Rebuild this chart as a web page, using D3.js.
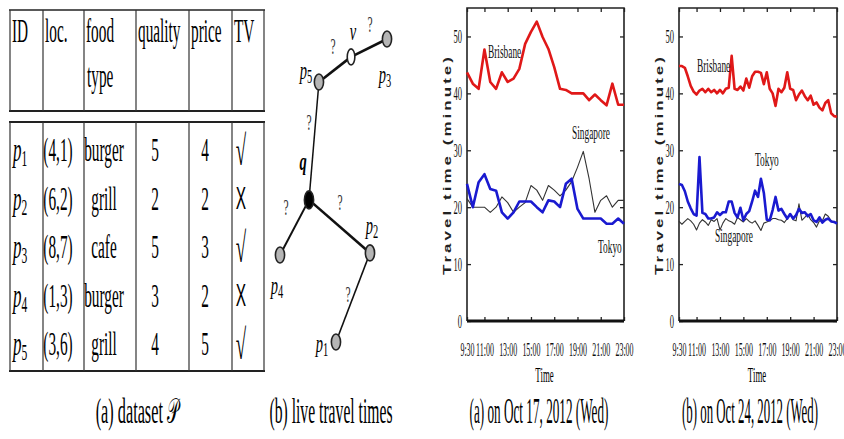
<!DOCTYPE html>
<html>
<head>
<meta charset="utf-8">
<script src="https://cdn.jsdelivr.net/npm/d3@7"></script>
<style>
body { margin: 0; background: #fff; }
svg { display: block; }
</style>
</head>
<body>
<svg id="fig" width="844" height="439"></svg>
<script>
// ---- (a) dataset P ----
var tableHead = ["ID", "loc.", "food", "quality", "price", "TV"];
var tableHead2 = ["", "", "type", "", "", ""];
var rowIds = ["1", "2", "3", "4", "5"];
var rowLoc = ["(4,1)", "(6,2)", "(8,7)", "(1,3)", "(3,6)"];
var rowFood = ["burger", "grill", "cafe", "burger", "grill"];
var rowQuality = [5, 2, 5, 3, 4];
var rowPrice = [4, 2, 3, 2, 5];
var rowTV = [true, false, true, false, true];

// ---- (b) live travel times (graph, layout units 0..10) ----
var graphNodes = [
    {id: "p5", x: 3.64, y: 1.42, kind: "poi"},
    {id: "v",  x: 6.64, y: 0.59, kind: "road"},
    {id: "p3", x: 10,   y: 0,    kind: "poi"},
    {id: "q",  x: 2.71, y: 5.31, kind: "query"},
    {id: "p2", x: 8.41, y: 7.06, kind: "poi"},
    {id: "p4", x: 0,    y: 7.13, kind: "poi"},
    {id: "p1", x: 5.23, y: 10,   kind: "poi"}
];
var graphEdges = [
    {a: "p5", b: "v",  lx: 4.95, ly: 0.26, w: 2.6},
    {a: "v",  b: "p3", lx: 8.41, ly: -0.46, w: 2.6},
    {a: "p5", b: "q",  lx: 2.71, ly: 2.77, w: 1.5},
    {a: "q",  b: "p4", lx: 0.56, ly: 5.58, w: 2},
    {a: "q",  b: "p2", lx: 5.61, ly: 5.41, w: 2.6},
    {a: "p2", b: "p1", lx: 6.36, ly: 8.45, w: 1.6}
];
var graphLabels = [
    {main: "p", sub: "5", x: 2.43, y: 1.09},
    {main: "v", sub: "",  x: 6.82, y: -0.2},
    {main: "p", sub: "3", x: 9.81, y: 1.22},
    {main: "q", sub: "",  x: 2.15, y: 4.09, bold: true},
    {main: "p", sub: "2", x: 8.6,  y: 6.2},
    {main: "p", sub: "4", x: -0.28, y: 8.18},
    {main: "p", sub: "1", x: 3.93, y: 10.1}
];

// ---- travel time charts ----
var xTickValues = [9.5, 11, 13, 15, 17, 19, 21, 23];
var xTickLabels = ["9:30", "11:00", "13:00", "15:00", "17:00", "19:00", "21:00", "23:00"];
var yTickValues = [0, 10, 20, 30, 40, 50];

// Oct 17, samples every 30 min from 9:30
var startA = 9.5, stepA = 0.5;
var brisbaneA = [43.7, 41.7, 40.8, 47.7, 42.0, 40.8, 43.7, 42.0, 42.6, 44.3, 48.7, 50.8, 52.6, 49.9,
                 47.8, 44.6, 40.8, 40.6, 40.0, 40.0, 40.0, 38.8, 39.8, 38.8, 37.9, 41.7, 38.0, 38.0];
var singaporeA = [21.5, 20.0, 20.0, 20.0, 19.1, 20.0, 21.8, 20.8, 19.1, 20.0, 20.8, 23.8, 23.0, 21.2,
                  23.8, 23.0, 22.0, 23.0, 24.5, 27.0, 29.8, 25.0, 19.1, 21.2, 22.0, 20.0, 21.2, 21.2];
var tokyoA = [24.1, 20.0, 24.4, 25.8, 23.2, 22.9, 19.1, 18.0, 19.1, 21.0, 21.0, 21.0, 20.0, 19.1,
              21.2, 21.0, 20.0, 24.1, 25.0, 19.7, 18.0, 18.0, 18.0, 18.0, 17.1, 17.1, 18.0, 17.1];

// Oct 24, samples every 15 min from 9:30
var startB = 9.5, stepB = 0.25;
var brisbaneB = [44.8, 44.8, 44.5, 43.0, 41.3, 40.3, 39.8, 40.5, 40.8, 40.2, 40.8, 40.2, 40.6, 40.0,
                 40.6, 40.0, 40.8, 41.0, 46.6, 40.8, 40.6, 41.2, 40.5, 42.6, 41.0, 43.0, 43.8, 43.8,
                 43.6, 41.6, 43.7, 40.8, 40.0, 37.8, 40.8, 40.2, 41.0, 43.7, 40.8, 40.6, 38.8, 39.8,
                 40.5, 39.5, 38.8, 39.6, 38.0, 38.4, 37.5, 37.0, 38.3, 38.8, 36.5, 36.0, 35.9];
var singaporeB = [17.5, 17.0, 17.5, 18.0, 17.6, 17.0, 16.0, 17.2, 17.8, 17.4, 16.8, 17.8, 17.5, 18.0,
                  16.0, 17.2, 18.0, 17.6, 17.4, 17.0, 18.2, 17.8, 17.4, 18.0, 17.5, 17.2, 17.6, 16.8,
                  15.9, 17.2, 17.4, 17.6, 18.0, 18.0, 17.8, 17.7, 17.3, 18.0, 18.8, 17.8, 17.6, 20.6,
                  17.7, 18.2, 18.8, 17.8, 17.3, 16.5, 17.6, 17.6, 18.8, 18.4, 17.6, 17.3, 17.4];
var tokyoB = [24.1, 23.9, 22.8, 21.0, 19.8, 18.8, 18.5, 28.8, 19.0, 18.8, 18.0, 18.0, 18.2, 19.1,
              18.6, 19.1, 19.1, 21.0, 21.0, 19.0, 18.2, 19.9, 17.7, 18.8, 19.3, 21.0, 22.9, 21.8,
              25.0, 22.5, 17.8, 17.7, 19.5, 21.8, 19.4, 19.7, 18.8, 18.0, 18.8, 18.0, 18.6, 19.7,
              19.0, 19.1, 18.4, 18.8, 17.7, 17.4, 18.2, 17.3, 17.8, 18.0, 17.5, 17.4, 17.1];

var SERIF = "'Liberation Serif', 'Times New Roman', serif";
var svg = d3.select("#fig");
svg.append("rect").attr("width", 844).attr("height", 439).attr("fill", "#fff");

// text squeezed horizontally, like the source figure
function sqText(parent, x, y, str, size, sx, anchor) {
    return parent.append("text")
        .attr("transform", "translate(" + x + "," + y + ") scale(" + sx + ",1)")
        .attr("text-anchor", anchor || "start")
        .style("font-family", SERIF)
        .style("font-size", size + "px")
        .text(str);
}

// caption squeezed to a given width
function caption(cx, str, w) {
    var t = svg.append("text")
        .attr("text-anchor", "middle")
        .style("font-family", SERIF)
        .style("font-size", "35px")
        .text(str);
    var len = t.node().getComputedTextLength();
    t.attr("transform", "translate(" + cx + ",423) scale(" + (w / len) + ",1)");
}

// ================= table =================
(function drawTable() {
    var g = svg.append("g");
    var colX = [10, 43, 84, 136, 189, 232, 264];
    var headTop = 10, headBot = 111, bodyTop = 122, bodyBot = 371;
    var rowY = d3.scaleLinear().domain([0, rowIds.length - 1]).range([161, 355]);

    g.append("line").attr("x1", 9).attr("x2", 265).attr("y1", headTop).attr("y2", headTop)
        .attr("stroke", "#222").attr("stroke-width", 1.6);
    [headBot, bodyTop, bodyBot].forEach(function(yy) {
        g.append("line").attr("x1", 9).attr("x2", 265).attr("y1", yy).attr("y2", yy)
            .attr("stroke", "#222").attr("stroke-width", 2.2);
    });
    colX.forEach(function(xx) {
        g.append("line").attr("x1", xx).attr("x2", xx).attr("y1", headTop).attr("y2", headBot)
            .attr("stroke", "#333").attr("stroke-width", 1.2);
        g.append("line").attr("x1", xx).attr("x2", xx).attr("y1", bodyTop).attr("y2", bodyBot)
            .attr("stroke", "#333").attr("stroke-width", 1.2);
    });

    tableHead.forEach(function(t, i) {
        sqText(g, colX[i] + 2, 42, t, 34, 0.45);
        if (tableHead2[i]) sqText(g, colX[i] + 3, 87, tableHead2[i], 34, 0.45);
    });

    var centers = [0, 58, 104, 155, 205, 241];
    rowIds.forEach(function(id, r) {
        var yy = rowY(r);
        var t = g.append("text")
            .attr("transform", "translate(13," + yy + ") scale(0.5,1)")
            .style("font-family", SERIF).style("font-size", "34px");
        t.append("tspan").style("font-style", "italic").text("p");
        t.append("tspan").attr("dy", 5).style("font-size", "23px").text(id);

        sqText(g, centers[1], yy, rowLoc[r], 34, 0.45, "middle");
        sqText(g, centers[2], yy, rowFood[r], 34, 0.45, "middle");
        sqText(g, centers[3], yy, rowQuality[r], 34, 0.45, "middle");
        sqText(g, centers[4], yy, rowPrice[r], 34, 0.45, "middle");
        if (rowTV[r]) {
            sqText(g, centers[5], yy + 4, "\u221A", 42, 0.45, "middle");
        } else {
            sqText(g, centers[5], yy - 1, "X", 31, 0.5, "middle")
                .style("font-family", "'Liberation Sans', sans-serif")
                .style("font-weight", 300);
        }
    });

    caption(137, "(a) dataset \uD835\uDCAB", 83);
})();

// ================= graph =================
(function drawGraph() {
    var g = svg.append("g");
    var gx = d3.scaleLinear().domain([0, 10]).range([280, 387]);
    var gy = d3.scaleLinear().domain([0, 10]).range([39, 342]);
    var byId = {};
    graphNodes.forEach(function(n) { byId[n.id] = n; });

    graphEdges.forEach(function(e) {
        var a = byId[e.a], b = byId[e.b];
        g.append("line")
            .attr("x1", gx(a.x)).attr("y1", gy(a.y))
            .attr("x2", gx(b.x)).attr("y2", gy(b.y))
            .attr("stroke", "#111").attr("stroke-width", e.w);
        sqText(g, gx(e.lx), gy(e.ly) + 7, "?", 23, 0.5, "middle").attr("fill", "#333");
    });

    var fills = {poi: "#b5b5b5", road: "#fff", query: "#000"};
    g.selectAll("ellipse.node")
        .data(graphNodes)
        .enter().append("ellipse")
        .attr("class", "node")
        .attr("cx", function(d) { return gx(d.x); })
        .attr("cy", function(d) { return gy(d.y); })
        .attr("rx", function(d) { return d.kind == "road" ? 3.8 : 4.6; })
        .attr("ry", function(d) { return d.kind == "query" ? 9 : 8; })
        .attr("fill", function(d) { return fills[d.kind]; })
        .attr("stroke", "#222").attr("stroke-width", 1.6);

    graphLabels.forEach(function(l) {
        var t = g.append("text")
            .attr("transform", "translate(" + gx(l.x) + "," + (gy(l.y) + 7) + ") scale(0.58,1)")
            .attr("text-anchor", "middle")
            .style("font-family", SERIF).style("font-size", "25px")
            .style("font-style", "italic")
            .style("font-weight", l.bold ? "bold" : "normal");
        t.append("tspan").text(l.main);
        if (l.sub) t.append("tspan").attr("dy", 4).style("font-size", "18px").style("font-style", "normal").text(l.sub);
    });

    caption(331, "(b) live travel times", 123);
})();

// ================= travel time panels =================
function drawPanel(cfg) {
    var g = svg.append("g");
    var x = d3.scaleLinear().domain([9.5, 23]).range([cfg.x0, cfg.x1]);
    var y = d3.scaleLinear().domain([0, 55]).range([321, 8]);

    function styleAxis(sel) {
        sel.select(".domain").remove();
        sel.selectAll(".tick line").attr("stroke", "#222").attr("stroke-width", 1.3);
        sel.selectAll("text").style("font-family", SERIF).style("font-size", "19px").attr("fill", "#111");
    }

    var bottom = g.append("g").attr("transform", "translate(0,321)")
        .call(d3.axisBottom(x).tickValues(xTickValues).tickSize(-4).tickPadding(35)
            .tickFormat(function(d, i) { return xTickLabels[i]; }));
    styleAxis(bottom);
    bottom.selectAll("text").attr("dy", 0).attr("transform", "scale(0.42,1)");

    var top = g.append("g").attr("transform", "translate(0,8)")
        .call(d3.axisTop(x).tickValues(xTickValues).tickSize(-4).tickFormat(""));
    styleAxis(top);

    var left = g.append("g").attr("transform", "translate(" + cfg.x0 + ",0)")
        .call(d3.axisLeft(y).tickValues(yTickValues).tickSize(-4).tickPadding(5));
    styleAxis(left);
    left.selectAll("text").attr("x", -11).attr("transform", "scale(0.45,1)");

    var right = g.append("g").attr("transform", "translate(" + cfg.x1 + ",0)")
        .call(d3.axisRight(y).tickValues(yTickValues).tickSize(-4).tickFormat(""));
    styleAxis(right);

    // frame
    g.append("path")
        .attr("d", "M" + cfg.x0 + "," + y(0) + "V" + y(55) + "H" + cfg.x1 + "V" + y(0))
        .attr("fill", "none").attr("stroke", "#222").attr("stroke-width", 1.6);
    g.append("line").attr("x1", cfg.x0).attr("x2", cfg.x1).attr("y1", y(0)).attr("y2", y(0))
        .attr("stroke", "#111").attr("stroke-width", 3);

    var line = d3.line()
        .x(function(d, i) { return x(cfg.start + i * cfg.step); })
        .y(function(d) { return y(d); });

    cfg.series.forEach(function(s) {
        g.append("path").datum(s.values)
            .attr("d", line)
            .attr("fill", "none")
            .attr("stroke", s.color)
            .attr("stroke-width", s.width)
            .attr("stroke-linejoin", "round");
    });
    cfg.labels.forEach(function(l) {
        sqText(g, l.x, l.y, l.text, 18, 0.52, "start").attr("fill", "#111");
    });

    // axis titles
    g.append("text")
        .attr("transform", "translate(" + cfg.titleX + ",166) scale(0.65,1) rotate(-90)")
        .attr("text-anchor", "middle").attr("dy", "0.35em")
        .attr("textLength", 218).attr("lengthAdjust", "spacing")
        .style("font-family", "'Liberation Sans', Arial, sans-serif")
        .style("font-size", "17px").style("font-weight", "bold").attr("fill", "#222")
        .text("Travel time (minute)");
    sqText(g, (cfg.x0 + cfg.x1) / 2 - 1, 382, "Time", 22, 0.4, "middle");

    caption(cfg.capX, cfg.caption, cfg.capW);
}

drawPanel({
    x0: 467, x1: 624, start: startA, step: stepA, titleX: 447,
    series: [
        {values: singaporeA, color: "#333", width: 1.1},
        {values: tokyoA, color: "#1a1ad0", width: 2.6},
        {values: brisbaneA, color: "#e01818", width: 2.6}
    ],
    labels: [
        {text: "Brisbane", x: 488, y: 58},
        {text: "Singapore", x: 572, y: 139},
        {text: "Tokyo", x: 598, y: 253}
    ],
    caption: "(a) on Oct 17, 2012 (Wed)", capX: 539, capW: 139
});

drawPanel({
    x0: 679, x1: 837, start: startB, step: stepB, titleX: 659,
    series: [
        {values: singaporeB, color: "#333", width: 1.1},
        {values: tokyoB, color: "#1a1ad0", width: 2.6},
        {values: brisbaneB, color: "#e01818", width: 2.6}
    ],
    labels: [
        {text: "Brisbane", x: 697, y: 72},
        {text: "Tokyo", x: 755, y: 166},
        {text: "Singapore", x: 715, y: 242}
    ],
    caption: "(b) on Oct 24, 2012 (Wed)", capX: 750, capW: 136
});
</script>
</body>
</html>
